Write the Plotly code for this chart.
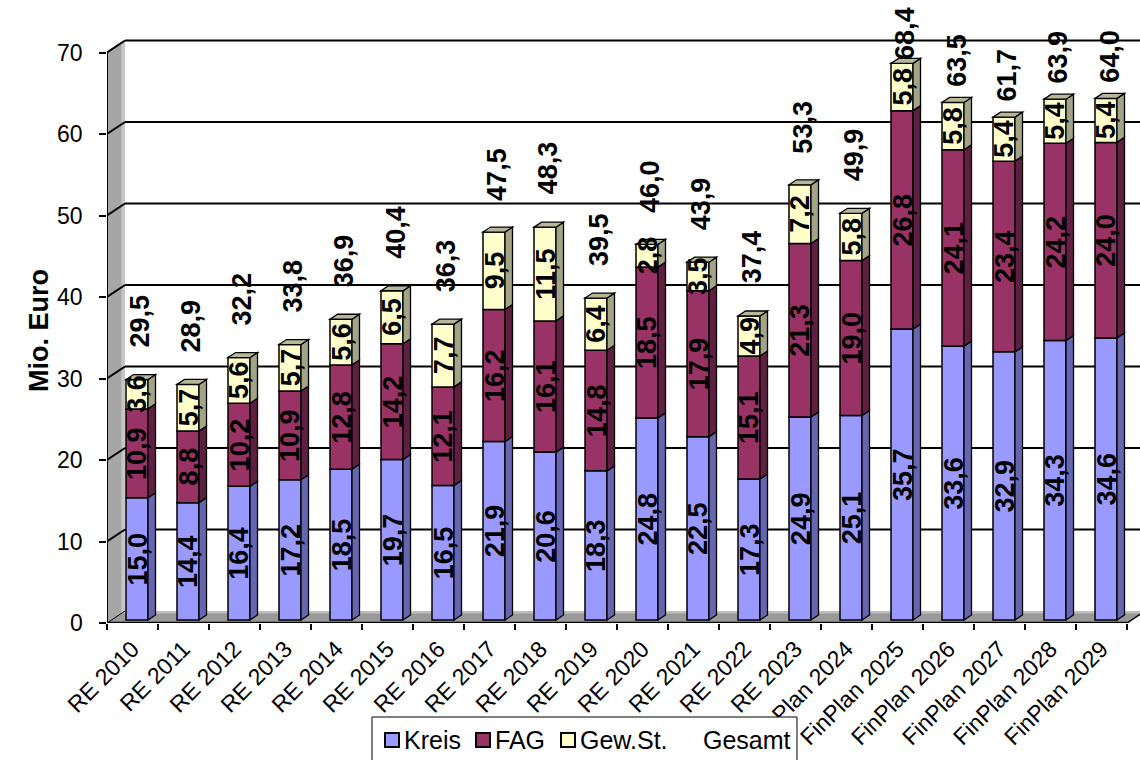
import numpy as np
import plotly.graph_objects as go

# ---------------------------------------------------------------- data
categories = [
    "RE 2010", "RE 2011", "RE 2012", "RE 2013", "RE 2014", "RE 2015",
    "RE 2016", "RE 2017", "RE 2018", "RE 2019", "RE 2020", "RE 2021",
    "RE 2022", "RE 2023", "FinPlan 2024", "FinPlan 2025", "FinPlan 2026",
    "FinPlan 2027", "FinPlan 2028", "FinPlan 2029",
]
kreis = [15.0, 14.4, 16.4, 17.2, 18.5, 19.7, 16.5, 21.9, 20.6, 18.3,
         24.8, 22.5, 17.3, 24.9, 25.1, 35.7, 33.6, 32.9, 34.3, 34.6]
fag = [10.9, 8.8, 10.2, 10.9, 12.8, 14.2, 12.1, 16.2, 16.1, 14.8,
       18.5, 17.9, 15.1, 21.3, 19.0, 26.8, 24.1, 23.4, 24.2, 24.0]
gewst = [3.6, 5.7, 5.6, 5.7, 5.6, 6.5, 7.7, 9.5, 11.5, 6.4,
         2.8, 3.5, 4.9, 7.2, 5.8, 5.8, 5.8, 5.4, 5.4, 5.4]
gesamt = [29.5, 28.9, 32.2, 33.8, 36.9, 40.4, 36.3, 47.5, 48.3, 39.5,
          46.0, 43.9, 37.4, 53.3, 49.9, 68.4, 63.5, 61.7, 63.9, 64.0]
series_names = ["Kreis", "FAG", "Gew.St.", "Gesamt"]
y_ticks = [0, 10, 20, 30, 40, 50, 60, 70]
y_title = "Mio. Euro"

# ---------------------------------------------------------------- styling
FONT = "Liberation Sans, Arial, sans-serif"
front_col = ["#9999FF", "#993366", "#FFFFCC"]
side_col = ["#6666B0", "#5E1F40", "#A3A385"]
top_col = "#B8B899"

W, H = 1140, 760
ML, MR, MT, MB = 107, 0, 38, 137
PW, PH = W - ML - MR, H - MT - MB
CAT_PX = 51.0                       # pixels per category
PX_PER_UNIT = 8.15                  # pixels per Mio. Euro
XMIN = -0.5
XMAX = XMIN + PW / CAT_PX
YMAX = PH / PX_PER_UNIT

# 3-D depth of the walls / floor, and of the bars
WALL_DX, WALL_DY = 18 / CAT_PX, 12 / PX_PER_UNIT
BAR_SHIFT_X, BAR_LIFT = 4.5 / CAT_PX, 3 / PX_PER_UNIT
BAR_W = 22 / CAT_PX
BAR_DX, BAR_DY = 7.5 / CAT_PX, 5 / PX_PER_UNIT

LABEL_SIZE = 27


def fmt(v):
    return f"{v:.1f}".replace(".", ",")


def px_x(p):
    return (p - ML) / PW


def px_y(p):
    return (H - MB - p) / PH


def poly(pts):
    return "M " + " L ".join(f"{x:.4f},{y:.4f}" for x, y in pts) + " Z"


n = len(categories)
xs = np.arange(n)
layers = [np.array(kreis), np.array(fag), np.array(gewst)]
bases = [np.zeros(n), np.array(kreis), np.array(kreis) + np.array(fag)]

fig = go.Figure()

# front faces of the stacked columns
for k in range(3):
    fig.add_trace(go.Bar(
        x=xs, y=layers[k], base=bases[k] + BAR_LIFT,
        width=BAR_W, offset=BAR_SHIFT_X - BAR_W / 2,
        marker=dict(color=front_col[k], line=dict(color="black", width=1.5)),
        name=series_names[k], showlegend=False, hoverinfo="skip",
    ))

shapes = []
annotations = []

# left wall, floor and back-wall grid
wall = poly([(XMIN, 0), (XMIN, 70), (XMIN + WALL_DX, 70 + WALL_DY),
             (XMIN + WALL_DX, WALL_DY)])
shapes.append(dict(type="path", path=wall, fillcolor="#A6A6A6",
                   line=dict(width=0), layer="below"))
f0 = 0.8
strip = poly([(XMIN + f0 * WALL_DX, f0 * WALL_DY), (XMIN + f0 * WALL_DX, 70 + f0 * WALL_DY),
              (XMIN + WALL_DX, 70 + WALL_DY), (XMIN + WALL_DX, WALL_DY)])
shapes.append(dict(type="path", path=strip, fillcolor="#C6C6C6",
                   line=dict(width=0), layer="below"))
floor = poly([(XMIN, 0), (n - 0.5, 0), (n - 0.5 + WALL_DX, WALL_DY),
              (XMIN + WALL_DX, WALL_DY)])
shapes.append(dict(type="path", path=floor, fillcolor="#999999",
                   line=dict(width=0), layer="below"))
fstrip = poly([(XMIN + f0 * WALL_DX, f0 * WALL_DY), (n - 0.5 + f0 * WALL_DX, f0 * WALL_DY),
               (n - 0.5 + WALL_DX, WALL_DY), (XMIN + WALL_DX, WALL_DY)])
shapes.append(dict(type="path", path=fstrip, fillcolor="#BDBDBD",
                   line=dict(width=0), layer="below"))

for v in y_ticks[1:]:
    shapes.append(dict(type="line", x0=XMIN + WALL_DX, x1=XMAX,
                       y0=v + WALL_DY, y1=v + WALL_DY,
                       line=dict(color="black", width=2), layer="below"))
    shapes.append(dict(type="line", x0=XMIN, x1=XMIN + WALL_DX,
                       y0=v, y1=v + WALL_DY,
                       line=dict(color="black", width=2), layer="below"))

# front edges of wall and floor
shapes.append(dict(type="line", x0=XMIN, x1=XMIN, y0=0, y1=70,
                   line=dict(color="black", width=2), layer="below"))
shapes.append(dict(type="line", x0=XMIN, x1=n - 0.5, y0=0, y1=0,
                   line=dict(color="black", width=2.5), layer="below"))
shapes.append(dict(type="line", x0=n - 0.5, x1=n - 0.5 + WALL_DX, y0=0, y1=WALL_DY,
                   line=dict(color="black", width=1.5), layer="below"))
shapes.append(dict(type="line", x0=XMIN, x1=XMIN + WALL_DX, y0=0, y1=WALL_DY,
                   line=dict(color="black", width=1), layer="below"))

# side and top faces of the columns
for i in range(n):
    xl = xs[i] + BAR_SHIFT_X - BAR_W / 2
    xr = xl + BAR_W
    for k in range(3):
        y0 = bases[k][i] + BAR_LIFT
        y1 = y0 + layers[k][i]
        side = poly([(xr, y0), (xr + BAR_DX, y0 + BAR_DY),
                     (xr + BAR_DX, y1 + BAR_DY), (xr, y1)])
        shapes.append(dict(type="path", path=side, fillcolor=side_col[k],
                           line=dict(color="black", width=1.3), layer="above"))
    yt = bases[2][i] + layers[2][i] + BAR_LIFT
    top = poly([(xl, yt), (xr, yt), (xr + BAR_DX, yt + BAR_DY), (xl + BAR_DX, yt + BAR_DY)])
    shapes.append(dict(type="path", path=top, fillcolor=top_col,
                       line=dict(color="black", width=1.3), layer="above"))

# segment value labels
for i in range(n):
    for k in range(3):
        yc = bases[k][i] + layers[k][i] / 2 + BAR_LIFT
        annotations.append(dict(
            x=xs[i] + 0.1, y=yc, xref="x", yref="y", text=fmt(layers[k][i]),
            textangle=-90, showarrow=False,
            font=dict(family=FONT, size=LABEL_SIZE, color="black", weight="bold"),
        ))

# total labels above the columns (kept inside the axis range, shifted in pixels)
g = np.array(gesamt)
g_pos = np.minimum(g + np.where(g > 60, 5.5, 7.5), 72.3)
for i in range(n):
    y_in = min(g_pos[i], YMAX - 0.05)
    annotations.append(dict(
        x=xs[i] + 0.15, y=y_in, xref="x", yref="y", text=fmt(gesamt[i]),
        yshift=(g_pos[i] - y_in) * PX_PER_UNIT,
        textangle=-90, showarrow=False,
        font=dict(family=FONT, size=LABEL_SIZE, color="black", weight="bold"),
    ))

# y tick labels
for v in y_ticks:
    annotations.append(dict(
        x=px_x(85), y=v, xref="paper", yref="y", text=str(v),
        xanchor="right", yanchor="middle", showarrow=False,
        font=dict(family=FONT, size=23, color="black"),
    ))

# y-axis title
annotations.append(dict(
    x=px_x(22), y=px_y(331), xref="paper", yref="paper", text=y_title,
    textangle=-90, showarrow=False,
    font=dict(family=FONT, size=27, color="black", weight="bold"),
))

# legend box
shapes.append(dict(type="rect", xref="paper", yref="paper",
                   x0=px_x(372), x1=px_x(797), y0=px_y(775), y1=px_y(717),
                   fillcolor="white", line=dict(color="black", width=1), layer="above"))
sq_x = [385, 476, 561]
txt_x = [402, 493, 578, 701]
for k in range(3):
    shapes.append(dict(type="rect", xref="paper", yref="paper",
                       x0=px_x(sq_x[k]), x1=px_x(sq_x[k] + 14),
                       y0=px_y(747), y1=px_y(733),
                       fillcolor=front_col[k], line=dict(color="black", width=2),
                       layer="above"))
for k in range(4):
    annotations.append(dict(
        x=px_x(txt_x[k]), y=px_y(740), xref="paper", yref="paper",
        text=series_names[k], showarrow=False, xanchor="left", yanchor="middle",
        font=dict(family=FONT, size=25, color="black"),
    ))

fig.update_layout(
    width=W, height=H,
    margin=dict(l=ML, r=MR, t=MT, b=MB, pad=0),
    paper_bgcolor="white", plot_bgcolor="white",
    barmode="overlay", showlegend=False,
    font=dict(family=FONT, color="black"),
    xaxis=dict(
        range=[XMIN, XMAX], tickvals=list(xs), ticktext=categories,
        tickangle=-45, ticks="", showgrid=False, zeroline=False, showline=False,
        tickfont=dict(family=FONT, size=23, color="black"),
        ticklabelstandoff=7,
        minor=dict(tickvals=list(np.arange(n + 1) - 0.5), ticks="outside",
                   ticklen=6, tickwidth=1.5, tickcolor="black", showgrid=False),
    ),
    yaxis=dict(
        range=[0, YMAX], tickvals=y_ticks, ticks="outside", ticklen=7,
        tickwidth=1.5, tickcolor="black", showgrid=False, zeroline=False,
        showline=False, showticklabels=False,
    ),
    shapes=shapes,
    annotations=annotations,
)

fig.write_html("out.html")
